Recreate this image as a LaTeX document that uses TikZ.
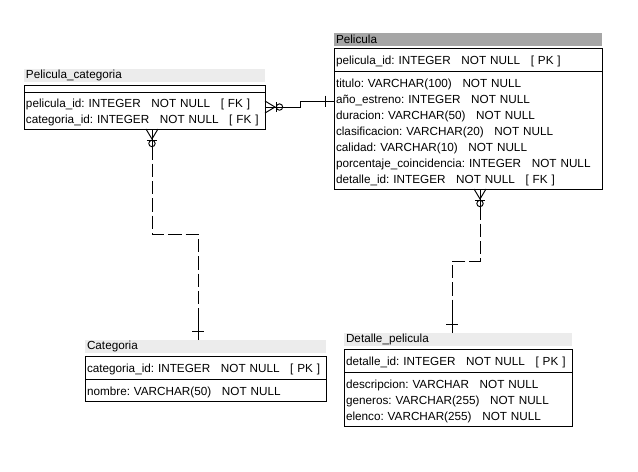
\documentclass[tikz,border=0pt]{standalone}
\usepackage{fontspec}
\setmainfont{Liberation Sans}
\usepackage{xcolor}
\usepackage{tikz}
\usetikzlibrary{positioning}
\definecolor{hdrgray}{RGB}{236,236,236}
\definecolor{selgray}{RGB}{166,166,166}
\newcommand{\gap}{\nobreak\hspace{8pt}}
\frenchspacing

\begin{document}
\begin{tikzpicture}[
    x=0.75pt, y=-0.75pt,
    line width=0.7pt,
    hdr/.style={fill=hdrgray, outer sep=0pt, inner xsep=1.5pt, inner ysep=0pt, minimum height=9.75pt, align=left, anchor=north west, font=\fontsize{8.8}{12}\selectfont},
    tbl/.style={draw, outer sep=0pt, inner xsep=1.5pt, inner ysep=1pt, align=left, font=\fontsize{8.8}{12}\selectfont},
    rows/.style={tbl, execute at begin node={\noindent\rule{0pt}{10pt}}},
    optrel/.style={dash pattern=on 10pt off 3pt}
]
    \useasboundingbox (0,0) rectangle (638,471);

    \node[hdr, fill=selgray, text width=198pt] (pelicula) at (334,33) {Pelicula};
    \node[rows, below=1.5pt of pelicula, text width=198pt, minimum height=17.25pt] (pelkey) {pelicula\_id: INTEGER\gap NOT NULL\gap [~PK~]};
    \node[rows, below=0pt of pelkey, text width=198pt, minimum height=88.5pt] (pelattr) {titulo: VARCHAR(100)\gap NOT NULL\\año\_estreno: INTEGER\gap NOT NULL\\duracion: VARCHAR(50)\gap NOT NULL\\clasificacion: VARCHAR(20)\gap NOT NULL\\calidad: VARCHAR(10)\gap NOT NULL\\porcentaje\_coincidencia: INTEGER\gap NOT NULL\\detalle\_id: INTEGER\gap NOT NULL\gap [~FK~]};

    \node[hdr, text width=177.75pt] (pelcat) at (24,69) {Pelicula\_categoria};
    \node[tbl, below=2.25pt of pelcat, text width=177.75pt, minimum height=5.25pt] (pelcatkey) {};
    \node[rows, below=0pt of pelcatkey, text width=177.75pt, minimum height=27.75pt] (pelcatattr) {pelicula\_id: INTEGER\gap NOT NULL\gap [~FK~]\\categoria\_id: INTEGER\gap NOT NULL\gap [~FK~]};

    \node[hdr, text width=177.75pt] (categoria) at (85,340) {Categoria};
    \node[rows, below=2.25pt of categoria, text width=177.75pt, minimum height=17.25pt] (catkey) {categoria\_id: INTEGER\gap NOT NULL\gap [~PK~]};
    \node[rows, below=0pt of catkey, text width=177.75pt, minimum height=16.5pt] (catattr) {nombre: VARCHAR(50)\gap NOT NULL};

    \node[hdr, text width=168pt] (detalle) at (344,333) {Detalle\_pelicula};
    \node[rows, below=2.25pt of detalle, text width=168pt, minimum height=17.25pt] (detkey) {detalle\_id: INTEGER\gap NOT NULL\gap [~PK~]};
    \node[rows, below=0pt of detkey, text width=168pt, minimum height=40.5pt] (detattr) {descripcion: VARCHAR\gap NOT NULL\\generos: VARCHAR(255)\gap NOT NULL\\elenco: VARCHAR(255)\gap NOT NULL};

    \coordinate (pcout) at ([yshift=2.6pt]pelcatattr.east);
    \coordinate (pelin) at ([yshift=21.75pt]pelattr.west);
    \draw (pcout) -- ++(35,0) |- (pelin);
    \draw (pcout) ++(0,-6) -- ++(10,6) -- ++(-10,6);
    \draw (pcout) ++(11,-5) -- ++(0,10);
    \draw (pcout) ++(14.5,0) circle (2.4pt);
    \draw (pelin) ++(-9,-5.5) -- ++(0,11);

    \coordinate (pcdown) at ([xshift=5.6pt]pelcatattr.south);
    \coordinate (catin) at ([xshift=-5.6pt]categoria.north);
    \draw[optrel] (pcdown) -- ++(0,105) -| (catin);
    \draw (pcdown) -- ++(0,20);
    \draw (catin) -- ++(0,-30);
    \draw (pcdown) ++(-6,0) -- ++(6,10) -- ++(6,-10);
    \draw (pcdown) ++(-5,11) -- ++(10,0);
    \draw (pcdown) ++(0,14.5) circle (2.4pt);
    \draw (catin) ++(-6,-9) -- ++(12,0);

    \coordinate (peldown) at ([xshift=9pt]pelattr.south);
    \coordinate (detin) at ([xshift=-4.5pt]detalle.north);
    \draw[optrel] (peldown) -- ++(0,72) -| (detin);
    \draw (peldown) -- ++(0,20);
    \draw (detin) -- ++(0,-20);
    \draw (peldown) ++(-6,0) -- ++(6,10) -- ++(6,-10);
    \draw (peldown) ++(-5,11) -- ++(10,0);
    \draw (peldown) ++(0,14.5) circle (2.4pt);
    \draw (detin) ++(-6,-9) -- ++(12,0);
\end{tikzpicture}
\end{document}
